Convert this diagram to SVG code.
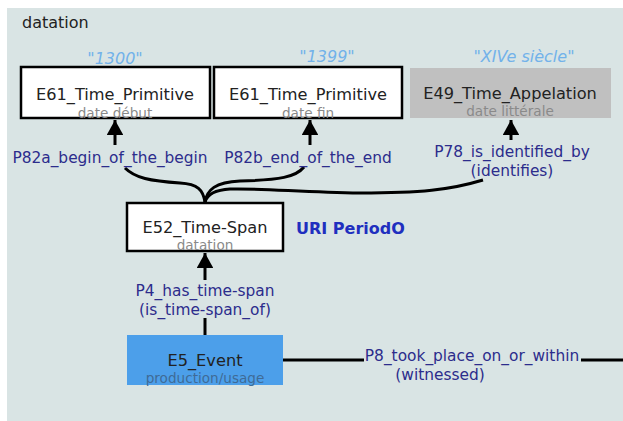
<svg xmlns="http://www.w3.org/2000/svg" width="623" height="421" viewBox="0 0 623 421">
<style>
.t{font-family:"DejaVu Sans",Verdana,sans-serif;font-size:16.2px;fill:#222;text-anchor:middle}
.s{font-family:"DejaVu Sans",Verdana,sans-serif;font-size:13.6px;fill:#8a8a8a;text-anchor:middle}
.l{font-family:"DejaVu Sans",Verdana,sans-serif;font-size:15.4px;fill:#2c2c8c;text-anchor:middle}
.v{font-family:"DejaVu Sans",Verdana,sans-serif;font-size:16px;fill:#72b2ea;font-style:italic;text-anchor:middle}
.box{fill:#fff;stroke:#000;stroke-width:2.5}
.ln{fill:none;stroke:#000;stroke-width:3}
</style>
<defs>
<marker id="ah" viewBox="0 0 10 10" refX="10" refY="5" markerWidth="5" markerHeight="5.5" orient="auto" markerUnits="strokeWidth" preserveAspectRatio="none">
<path d="M0,0 L10,5 L0,10 z" fill="#000"/>
</marker>
</defs>
<rect x="0" y="0" width="623" height="421" fill="#fff"/>
<rect x="7" y="8" width="616" height="413" fill="#d9e4e4"/>
<text x="22" y="28" font-family="DejaVu Sans,sans-serif" font-size="16" fill="#222">datation</text>

<g id="connectors">
<path class="ln" d="M115,145 L115,120" marker-end="url(#ah)"/>
<path class="ln" d="M310,145 L310,120" marker-end="url(#ah)"/>
<path class="ln" d="M511,140 L511,120" marker-end="url(#ah)"/>
<path class="ln" d="M205,280 L205,253" marker-end="url(#ah)"/>
<path class="ln" d="M205,318 L205,335"/>
<path class="ln" d="M125,168 C135,178 150,181 180,183 C198,184 203,190 205,202"/>
<path class="ln" d="M304,167 C296,177 280,180 240,181 C215,182 207,190 205,202"/>
<path class="ln" d="M483,180 C450,190 420,193 360,193 C300,192 260,188 230,189 C213,190 207,195 205,202"/>
<path class="ln" d="M283,360 L364,360"/>
<path class="ln" d="M581,360 L623,360"/>
</g>

<g id="lit1300"><text class="v" x="115" y="64">"1300"</text></g>
<g id="lit1399"><text class="v" x="327" y="62">"1399"</text></g>
<g id="litXIVe"><text class="v" x="524" y="62">"XIVe siècle"</text></g>

<g id="e61a">
<rect class="box" x="21" y="67" width="189" height="51"/>
<text class="t" x="115" y="100">E61_Time_Primitive</text>
<text class="s" x="115" y="118">date début</text>
</g>
<g id="e61b">
<rect class="box" x="214" y="67" width="188" height="51"/>
<text class="t" x="308" y="100">E61_Time_Primitive</text>
<text class="s" x="308" y="118">date fin</text>
</g>
<g id="e49">
<rect x="410" y="68" width="201" height="50" fill="#c0c0c0"/>
<text class="t" x="510" y="99">E49_Time_Appelation</text>
<text class="s" x="510" y="116">date littérale</text>
</g>

<g id="lbl-p82a"><text class="l" x="110" y="163">P82a_begin_of_the_begin</text></g>
<g id="lbl-p82b"><text class="l" x="308" y="163">P82b_end_of_the_end</text></g>
<g id="lbl-p78"><text class="l" x="512" y="157">P78_is_identified_by</text><text class="l" x="512" y="176">(identifies)</text></g>

<g id="e52">
<rect class="box" x="127" y="203" width="156" height="48"/>
<text class="t" x="205" y="233">E52_Time-Span</text>
<text class="s" x="205" y="250">datation</text>
</g>
<g id="uri"><text x="296" y="234" font-family="DejaVu Sans,sans-serif" font-size="16" font-weight="bold" fill="#1f2fbf">URI PeriodO</text></g>

<g id="lbl-p4"><text class="l" x="205" y="296">P4_has_time-span</text><text class="l" x="205" y="315">(is_time-span_of)</text></g>

<g id="e5">
<rect x="127" y="335" width="156" height="50" fill="#4c9fea"/>
<text class="t" x="205" y="366">E5_Event</text>
<text class="s" x="205" y="383" style="fill:#3f6b96">production/usage</text>
</g>

<g id="lbl-p8"><text class="l" x="472" y="361">P8_took_place_on_or_within</text><text class="l" x="440" y="380">(witnessed)</text></g>
</svg>
